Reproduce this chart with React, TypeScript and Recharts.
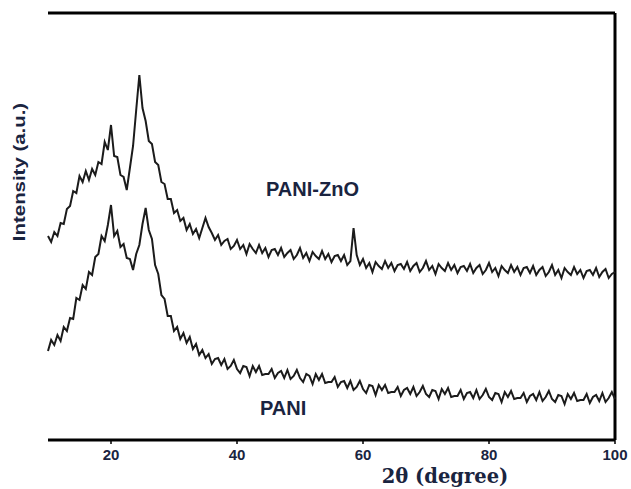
import { LineChart, Line, XAxis, YAxis, ReferenceLine } from 'recharts';

// 2θ positions (degree)
const angles = [
  10, 10.5, 11, 11.5, 12, 12.5, 13, 13.5, 14, 14.5,
  15, 15.5, 16, 16.5, 17, 17.5, 18, 18.5, 19, 19.5,
  20, 20.5, 21, 21.5, 22, 22.5, 23, 23.5, 24, 24.5,
  25, 25.5, 26, 26.5, 27, 27.5, 28, 28.5, 29, 29.5,
  30, 30.5, 31, 31.5, 32, 32.5, 33, 33.5, 34, 34.5,
  35, 35.5, 36, 36.5, 37, 37.5, 38, 38.5, 39, 39.5,
  40, 40.5, 41, 41.5, 42, 42.5, 43, 43.5, 44, 44.5,
  45, 45.5, 46, 46.5, 47, 47.5, 48, 48.5, 49, 49.5,
  50, 50.5, 51, 51.5, 52, 52.5, 53, 53.5, 54, 54.5,
  55, 55.5, 56, 56.5, 57, 57.5, 58, 58.5, 59, 59.5,
  60, 60.5, 61, 61.5, 62, 62.5, 63, 63.5, 64, 64.5,
  65, 65.5, 66, 66.5, 67, 67.5, 68, 68.5, 69, 69.5,
  70, 70.5, 71, 71.5, 72, 72.5, 73, 73.5, 74, 74.5,
  75, 75.5, 76, 76.5, 77, 77.5, 78, 78.5, 79, 79.5,
  80, 80.5, 81, 81.5, 82, 82.5, 83, 83.5, 84, 84.5,
  85, 85.5, 86, 86.5, 87, 87.5, 88, 88.5, 89, 89.5,
  90, 90.5, 91, 91.5, 92, 92.5, 93, 93.5, 94, 94.5,
  95, 95.5, 96, 96.5, 97, 97.5, 98, 98.5, 99, 99.5,
  100,
];

// intensity (a.u.), offset as plotted
const paniZnO = [
  204, 198, 208, 204, 217, 216, 231, 234, 249, 247,
  264, 258, 269, 260, 271, 265, 278, 276, 298, 290,
  315, 284, 283, 265, 263, 250, 272, 294, 330, 365,
  332, 319, 299, 296, 278, 275, 258, 256, 241, 241,
  227, 230, 219, 222, 210, 216, 206, 211, 202, 212,
  222, 213, 207, 200, 205, 195, 199, 201, 191, 194,
  200, 191, 195, 186, 196, 191, 187, 195, 187, 192,
  183, 190, 191, 185, 192, 183, 187, 190, 181, 185,
  192, 182, 187, 179, 188, 184, 181, 189, 181, 186,
  178, 184, 185, 179, 185, 175, 179, 212, 185, 175,
  181, 172, 177, 168, 178, 174, 171, 179, 172, 177,
  169, 175, 176, 171, 178, 169, 174, 177, 168, 172,
  179, 170, 174, 166, 176, 172, 169, 177, 170, 175,
  167, 173, 174, 169, 176, 167, 172, 175, 166, 170,
  177, 168, 172, 164, 174, 170, 167, 175, 168, 173,
  165, 172, 173, 167, 174, 165, 170, 173, 164, 168,
  175, 165, 170, 162, 172, 168, 165, 173, 166, 170,
  162, 169, 170, 165, 172, 163, 168, 171, 162, 166,
  168,
];

const pani = [
  89, 100, 95, 105, 99, 113, 109, 122, 121, 142,
  140, 155, 151, 168, 165, 183, 186, 204, 199, 215,
  235, 204, 209, 193, 196, 182, 181, 170, 186, 195,
  216, 232, 210, 201, 175, 166, 145, 141, 124, 124,
  109, 113, 101, 107, 97, 103, 91, 96, 85, 90,
  82, 86, 76, 81, 82, 75, 81, 71, 74, 80,
  71, 67, 74, 73, 64, 74, 68, 74, 65, 66,
  66, 71, 62, 67, 69, 62, 70, 61, 64, 70,
  62, 58, 66, 64, 56, 66, 60, 66, 57, 58,
  58, 63, 53, 58, 59, 52, 59, 50, 53, 59,
  51, 47, 55, 54, 45, 55, 50, 55, 47, 48,
  48, 53, 44, 50, 52, 46, 53, 44, 48, 54,
  46, 43, 50, 49, 41, 51, 46, 52, 43, 44,
  44, 50, 41, 47, 48, 42, 50, 41, 45, 51,
  43, 40, 47, 46, 38, 48, 43, 49, 41, 42,
  42, 47, 38, 44, 46, 40, 48, 39, 43, 49,
  41, 38, 45, 44, 36, 46, 41, 47, 39, 40,
  40, 46, 37, 43, 45, 39, 47, 38, 42, 48,
  41,
];

const xTicks = [20, 40, 60, 80, 100];

const rows = angles.map((a, i) => ({ angle: a, paniZnO: paniZnO[i], pani: pani[i] }));

const INK = '#1b1b1b';
const LABEL = '#1a2440';
const SANS = 'Arial, "Liberation Sans", sans-serif';

export default function App() {
  return (
    <div style={{ position: 'absolute', left: 0, top: 0, width: 631, height: 489, background: '#fff' }}>
      <LineChart
        width={631}
        height={489}
        data={rows}
        margin={{ top: 13, right: 16, left: 48, bottom: 0 }}
      >
        <XAxis
          dataKey="angle"
          type="number"
          domain={[10, 100]}
          ticks={xTicks}
          height={49}
          axisLine={{ stroke: '#000', strokeWidth: 3 }}
          tickLine={{ stroke: '#000', strokeWidth: 1.5 }}
          tickSize={4}
          tickMargin={5}
          tick={{ fill: LABEL, fontSize: 15, fontWeight: 700, fontFamily: SANS }}
        />
        <YAxis
          type="number"
          domain={[0, 427]}
          width={0}
          tick={false}
          tickLine={false}
          axisLine={{ stroke: '#000', strokeWidth: 3 }}
        />
        <ReferenceLine y={427} stroke="#000" strokeWidth={3} />
        <ReferenceLine x={100} stroke="#000" strokeWidth={3} />
        <Line
          dataKey="paniZnO"
          stroke={INK}
          strokeWidth={2}
          dot={false}
          type="linear"
          isAnimationActive={false}
        />
        <Line
          dataKey="pani"
          stroke={INK}
          strokeWidth={2}
          dot={false}
          type="linear"
          isAnimationActive={false}
        />
      </LineChart>

      {/* y axis title, stretched a little along its length like the scan */}
      <div
        style={{
          position: 'absolute',
          left: 20,
          top: 172,
          transform: 'translate(-50%, -50%) rotate(-90deg) scaleX(1.2)',
          whiteSpace: 'nowrap',
          fontFamily: SANS,
          fontWeight: 700,
          fontSize: 17,
          color: LABEL,
        }}
      >
        Intensity (a.u.)
      </div>
      <div
        style={{
          position: 'absolute',
          left: 445,
          top: 476,
          transform: 'translate(-50%, -50%)',
          whiteSpace: 'nowrap',
          fontFamily: '"DejaVu Serif", serif',
          fontWeight: 700,
          fontSize: 19.5,
          color: LABEL,
        }}
      >
        2θ (degree)
      </div>
      <div
        style={{
          position: 'absolute',
          left: 266,
          top: 178,
          whiteSpace: 'nowrap',
          fontFamily: SANS,
          fontWeight: 700,
          fontSize: 20,
          color: LABEL,
        }}
      >
        PANI-ZnO
      </div>
      <div
        style={{
          position: 'absolute',
          left: 260,
          top: 397,
          whiteSpace: 'nowrap',
          fontFamily: SANS,
          fontWeight: 700,
          fontSize: 20,
          color: LABEL,
        }}
      >
        PANI
      </div>
    </div>
  );
}
